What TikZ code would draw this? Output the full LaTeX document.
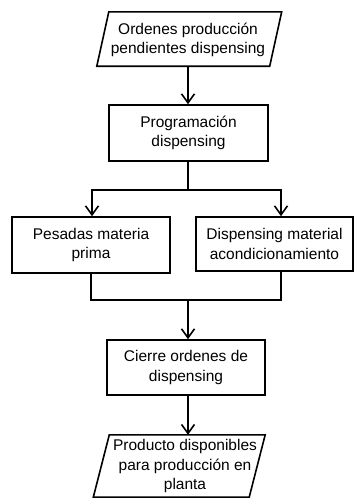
\documentclass[tikz,border=0pt]{standalone}
\usepackage{fontspec}
\setmainfont{Liberation Sans}
\usetikzlibrary{arrows.meta}
\begin{document}
\begin{tikzpicture}[x=1pt,y=-1pt,
  every node/.style={font=\fontsize{15.5}{19.5}\selectfont, align=center, inner sep=0pt},
  flowbox/.style={draw, line width=1.6pt},
  flowline/.style={line width=1.8pt},
  flowarrow/.style={flowline, -{Straight Barb[length=9pt,width=13pt,line width=1.6pt]}}
]
\useasboundingbox (0,0) rectangle (354,498);

% input document (parallelogram frame + text)
\node[minimum width=172.5pt, minimum height=54pt] (orders) at (189.25,39) {};
\draw[flowbox] ([xshift=6pt]orders.north west) -- ([xshift=6pt]orders.north east)
  -- ([xshift=-6pt]orders.south east) -- ([xshift=-6pt]orders.south west) -- cycle;
\node (orderstext) at (188,40) {Ordenes producción\\pendientes dispensing};

% process steps
\node[flowbox, minimum width=159pt, minimum height=56pt] (prog) at (188.5,133) {Programación\\dispensing};
\node[flowbox, minimum width=158pt, minimum height=56pt] (weigh) at (91,245) {Pesadas materia\\prima};
\node[flowbox, minimum width=157pt, minimum height=54pt] (pack) at (274.5,244) {Dispensing material\\acondicionamiento};
\node[flowbox, minimum width=158pt, minimum height=55pt] (close) at (186,367.5) {Cierre ordenes de\\dispensing};

% output document (parallelogram frame + text)
\node[minimum width=155.5pt, minimum height=62pt] (result) at (179.25,466) {};
\draw[flowbox] ([xshift=8pt]result.north west) -- ([xshift=8pt]result.north east)
  -- ([xshift=-8pt]result.south east) -- ([xshift=-8pt]result.south west) -- cycle;
\node (resulttext) at (185,466) {Producto disponibles\\para producción en\\planta};

% connectors
\coordinate (split) at (188,190);
\coordinate (join) at (188,300);

\draw[flowarrow] (orders.south -| split) -- (split |- prog.north);
\draw[flowline] (split |- prog.south) -- (split);
\draw[flowarrow] (split) -| ([xshift=1pt]weigh.north);
\draw[flowarrow] (split) -| ([xshift=6.5pt]pack.north);
\draw[flowline] (weigh.south) |- (join);
\draw[flowline] ([xshift=6.5pt]pack.south) |- (join);
\draw[flowarrow] (join) -- (join |- close.north);
\draw[flowarrow] (join |- close.south) -- (join |- result.north);
\end{tikzpicture}
\end{document}
